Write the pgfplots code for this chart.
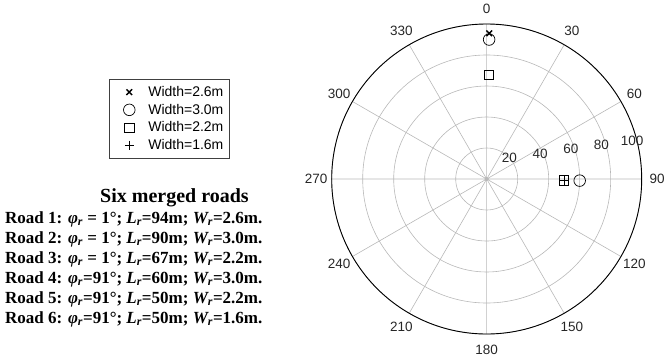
\documentclass[border=0pt]{standalone}
\usepackage{pgfplots}
\pgfplotsset{compat=1.18}
\usepgfplotslibrary{polar}
\usepackage{fontspec}
\setmainfont{Liberation Serif}
\setsansfont{Liberation Sans}
\definecolor{gridgray}{gray}{0.72}

% bold-italic symbols for the road list
\newcommand\phir{{\itshape φ}\textsubscript{\itshape r}}
\newcommand\Lr{{\itshape L}\textsubscript{\itshape r}}
\newcommand\Wr{{\itshape W}\textsubscript{\itshape r}}

\begin{document}
\begin{tikzpicture}[x=1pt,y=1pt]
\useasboundingbox (0,0) rectangle (665,360);

% angles are stored as 90 - heading, so 0 sits on top and headings run clockwise
\begin{polaraxis}[
  at={(486.7pt,181pt)}, anchor=center,
  scale only axis, width=310pt, height=310pt,
  xmin=0, xmax=360, ymin=0, ymax=100,
  xtick={0,30,...,330}, ytick={20,40,60,80,100},
  xticklabels={}, yticklabels={},
  major tick length=0pt,
  xmajorgrids, ymajorgrids,
  major grid style={gridgray, line width=0.6pt},
  separate axis lines,
  x axis line style={black, line width=0.9pt},
  y axis line style={draw=none},
  clip=false,
  legend image code/.code={%
    \path[draw=none] (0pt,-8.85pt) rectangle (33.5pt,8.85pt);
    \draw[#1] plot coordinates {(14.5pt,0pt)};},
  legend style={at={(-0.7184,0.8226)}, anchor=north west,
    draw=black!75, line width=0.6pt,
    font=\fontsize{14}{15}\selectfont\sffamily,
    inner xsep=5.5pt, inner ysep=4pt, row sep=0pt,
    nodes={inner sep=0pt, anchor=west}},
]
\addplot[only marks, mark=x, mark size=4pt, line width=1.4pt, black]
  coordinates {(89,94)};
\addlegendentry{Width=2.6m}
\addplot[only marks, mark=o, mark size=5.8pt, line width=0.7pt, black]
  coordinates {(89,90) (359,60)};
\addlegendentry{Width=3.0m}
\addplot[only marks, mark=square, mark size=4.6pt, line width=0.7pt, black]
  coordinates {(89,67) (359,50)};
\addlegendentry{Width=2.2m}
\addplot[only marks, mark=+, mark size=4.5pt, line width=1.1pt, black]
  coordinates {(359,50)};
\addlegendentry{Width=1.6m}

% heading labels around the rim
\begin{scope}[font=\fontsize{13.5}{15}\selectfont\sffamily, color=black!85]
\node at (axis cs:90,110) {0};
\node at (axis cs:60,110) {30};
\node at (axis cs:30,110) {60};
\node at (axis cs:0,110) {90};
\node at (axis cs:330,110) {120};
\node at (axis cs:300,110) {150};
\node at (axis cs:270,110) {180};
\node at (axis cs:240,110) {210};
\node at (axis cs:210,110) {240};
\node at (axis cs:180,110) {270};
\node at (axis cs:150,110) {300};
\node at (axis cs:120,110) {330};
% radius labels
\node[xshift=-8pt, yshift=17pt] at (axis cs:8,20) {20};
\node[xshift=-8pt, yshift=17pt] at (axis cs:8,40) {40};
\node[xshift=-8pt, yshift=17pt] at (axis cs:8,60) {60};
\node[xshift=-8pt, yshift=17pt] at (axis cs:8,80) {80};
\node[xshift=-8pt, yshift=17pt] at (axis cs:8,100) {100};
\end{scope}
\end{polaraxis}

% road list
\node[anchor=base west, inner sep=0pt, font=\fontsize{20}{22}\selectfont\bfseries]
  at (100,158) {Six merged roads};
\begin{scope}[every node/.style={anchor=base west, inner sep=0pt,
    font=\fontsize{17}{20}\selectfont\bfseries}]
\node at (5,137) {Road 1: \phir\ = 1°; \Lr=94m; \Wr=2.6m.};
\node at (5,117) {Road 2: \phir\ = 1°; \Lr=90m; \Wr=3.0m.};
\node at (5,97)  {Road 3: \phir\ = 1°; \Lr=67m; \Wr=2.2m.};
\node at (5,77)  {Road 4: \phir=91°; \Lr=60m; \Wr=3.0m.};
\node at (5,57)  {Road 5: \phir=91°; \Lr=50m; \Wr=2.2m.};
\node at (5,37)  {Road 6: \phir=91°; \Lr=50m; \Wr=1.6m.};
\end{scope}
\end{tikzpicture}
\end{document}
